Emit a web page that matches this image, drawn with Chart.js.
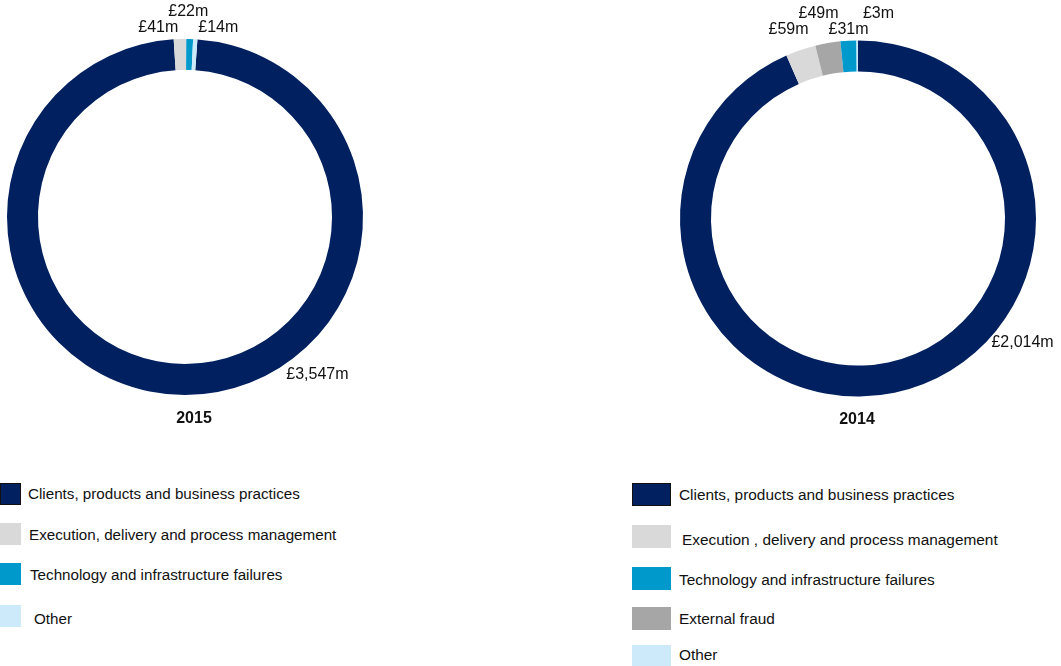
<!DOCTYPE html>
<html>
<head>
<meta charset="utf-8">
<script src="https://cdn.jsdelivr.net/npm/chart.js@4.4.1/dist/chart.umd.min.js"></script>
<style>
  html, body { margin: 0; padding: 0; background: #ffffff; }
  body { width: 1061px; height: 666px; position: relative; overflow: hidden;
         font-family: "Liberation Sans", Arial, sans-serif; color: #111; }
  canvas { position: absolute; }
  .year { position: absolute; font-weight: bold; font-size: 16px; transform: translateX(-50%); line-height: 18px; }
  .lg { position: absolute; font-size: 15.2px; line-height: 18px; white-space: nowrap; }
  .lg.r { font-size: 15.4px; }
  .sw { position: absolute; }
</style>
</head>
<body>
<canvas id="c2015" width="420" height="440" style="left:0;top:0;width:420px;height:440px"></canvas>
<canvas id="c2014" width="421" height="440" style="left:640px;top:0;width:421px;height:440px"></canvas>
<div class="year" style="left:194px;top:409px" id="y2015"></div>
<div class="year" style="left:857px;top:410px" id="y2014"></div>
<div id="legends"></div>
<script>
// ---- data ----
const years = ['2015', '2014'];
const categories2015 = ['Clients, products and business practices', 'Execution, delivery and process management', 'Technology and infrastructure failures', 'Other'];
const values2015 = [3547, 41, 22, 14];
const colors2015 = ['#002060', '#d9d9d9', '#0099cc', '#cceafa'];

const categories2014 = ['Clients, products and business practices', 'Execution , delivery and process management', 'Technology and infrastructure failures', 'External fraud', 'Other'];
const values2014 = [2014, 59, 31, 49, 3];
const colors2014 = ['#002060', '#d9d9d9', '#0099cc', '#a6a6a6', '#cceafa'];
// order of segments clockwise around the ring (indices into the arrays above)
const arcOrder2015 = [0, 1, 2, 3];
const arcOrder2014 = [0, 1, 3, 2, 4];

const fmt = v => '£' + v.toLocaleString('en-GB') + 'm';

const labelPlugin = {
  id: 'sliceLabels',
  afterDatasetsDraw(chart, args, opts) {
    const meta = chart.getDatasetMeta(0);
    const vals = chart.data.datasets[0].data;
    const arcs = meta.data;
    if (!arcs.length) return;
    const cx = arcs[0].x, cy = arcs[0].y, R = arcs[0].outerRadius;
    const ctx = chart.ctx;
    ctx.save();
    ctx.font = '16px "Liberation Sans", Arial, sans-serif';
    ctx.fillStyle = '#111';
    ctx.textAlign = 'center';
    ctx.textBaseline = 'middle';
    let big = 0;
    vals.forEach((v, i) => { if (v > vals[big]) big = i; });
    const a = opts.bigAngle * Math.PI / 180;
    ctx.fillText(fmt(vals[big]), cx + (R + 28) * Math.sin(a), cy - (R + 28) * Math.cos(a));
    const small = [];
    arcs.forEach((arc, i) => { if (i !== big) small.push({ i, x: cx + R * Math.cos((arc.startAngle + arc.endAngle) / 2) }); });
    const mean = small.reduce((s, o) => s + o.x, 0) / small.length;
    small.forEach((o, k) => {
      const x = mean + (k - (small.length - 1) / 2) * 30;
      const y = cy - R - (k % 2 === 0 ? 11 : 27);
      ctx.fillText(fmt(vals[o.i]), x, y);
    });
    ctx.restore();
  }
};

function makeChart(id, cats, vals, cols, order, rotation, padding, bigAngle) {
  new Chart(document.getElementById(id), {
    type: 'doughnut',
    data: {
      labels: order.map(i => cats[i]),
      datasets: [{
        data: order.map(i => vals[i]),
        backgroundColor: order.map(i => cols[i]),
        borderWidth: 0
      }]
    },
    options: {
      responsive: false,
      animation: false,
      rotation: rotation,
      cutout: '82.6%',
      layout: { padding: padding },
      plugins: { legend: { display: false }, tooltip: { enabled: false }, sliceLabels: { bigAngle: bigAngle } }
    },
    plugins: [labelPlugin]
  });
}

makeChart('c2015', categories2015, values2015, colors2015, arcOrder2015, 4,
  { left: 7, top: 39, right: 57, bottom: 45 }, 140);
makeChart('c2014', categories2014, values2014, colors2014, arcOrder2014, 0,
  { left: 40, top: 40.5, right: 25, bottom: 43.5 }, 127);

document.getElementById('y2015').textContent = years[0];
document.getElementById('y2014').textContent = years[1];

const lgRoot = document.getElementById('legends');
function legend(cats, cols, sw, textX, rows, cls) {
  cats.forEach((c, i) => {
    const r = rows[i];
    const s = document.createElement('div');
    s.className = 'sw';
    s.style.left = sw.x + 'px';
    s.style.top = r.top + 'px';
    s.style.width = sw.w + 'px';
    s.style.height = sw.h + 'px';
    s.style.background = cols[i];
    if (i === 0) { s.style.boxSizing = 'border-box'; s.style.border = '1px solid #111'; }
    lgRoot.appendChild(s);
    const t = document.createElement('div');
    t.className = 'lg' + (cls ? ' ' + cls : '');
    t.style.left = (textX[i]) + 'px';
    t.style.top = (r.text - 9) + 'px';
    t.textContent = c;
    lgRoot.appendChild(t);
  });
}
legend(categories2015, colors2015, { x: 0, w: 21, h: 22 }, [28, 29, 30, 34],
  [{ top: 483, text: 494 }, { top: 523, text: 535 }, { top: 563, text: 575 }, { top: 605, text: 619 }], '');
legend(categories2014, colors2014, { x: 632, w: 39, h: 23 }, [679, 682, 679, 679, 679],
  [{ top: 483, text: 495 }, { top: 525, text: 540 }, { top: 567, text: 580 }, { top: 607, text: 619 }, { top: 645, text: 655 }], 'r');
</script>
</body>
</html>
